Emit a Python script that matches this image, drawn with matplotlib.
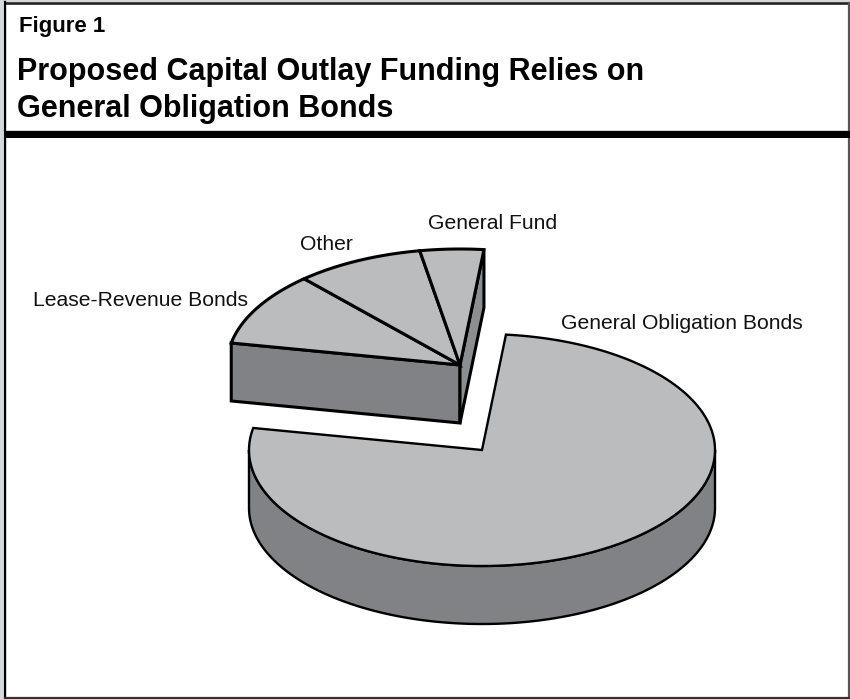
import numpy as np
import matplotlib
matplotlib.use('Agg')
import matplotlib.pyplot as plt

plt.rcParams['font.family'] = ['Liberation Sans', 'DejaVu Sans']

# funding shares, percent
sources = ['General Obligation Bonds', 'Lease-Revenue Bonds', 'Other', 'General Fund']
shares = [76.4, 10.3, 8.9, 4.4]

TOP = '#bbbcbe'
SIDE = '#808285'
SIDE_LIGHT = '#8c8e90'
RX, RY = 233, 116
DEPTH = 58

fig = plt.figure(figsize=(8.5, 6.99), dpi=100)
ax = fig.add_axes([0, 0, 1, 1])
ax.set_xlim(0, 850)
ax.set_ylim(699, 0)
ax.axis('off')


def rim(cx, cy, a0, a1):
    # angles clockwise from 12 o'clock, in degrees
    t = np.radians(np.linspace(a0, a1, 200))
    return cx + RX * np.sin(t), cy - RY * np.cos(t)


def draw_top(cx, cy, a0, a1, lw):
    x, y = rim(cx, cy, a0, a1)
    ax.fill(np.r_[cx, x], np.r_[cy, y], fc=TOP, ec='black', lw=lw, joinstyle='miter', zorder=3)


def draw_band(xs, ys, lw, color=SIDE):
    # a side wall hanging below an upper edge
    px = np.r_[xs, xs[::-1]]
    py = np.r_[ys, ys[::-1] + DEPTH]
    ax.fill(px, py, fc=color, ec='black', lw=lw, joinstyle='miter', zorder=2)


angles = np.array(shares) / sum(shares) * 360
go_start = 5.9
go_end = go_start + angles[0]

# main slice
x, y = rim(482, 450, 90, 270)
draw_band(x, y, 1.7)
draw_top(482, 450, go_start, go_end, 1.7)

# exploded slices
ax_c = (460, 365)
lx, ly = rim(*ax_c, go_end, go_end)
draw_band(np.array([lx[0], ax_c[0]]), np.array([ly[0], ax_c[1]]), 2.2)
rx_, ry_ = rim(*ax_c, go_start, go_start)
draw_band(np.array([ax_c[0], rx_[0]]), np.array([ax_c[1], ry_[0]]), 2.2, SIDE_LIGHT)
a = go_end
for s in angles[1:]:
    draw_top(*ax_c, a, a + s, 2.2)
    a += s

# slice labels
label_pos = [(561, 329), (33, 306), (300, 250), (428, 229)]
for name, (lbx, lby) in zip(sources, label_pos):
    ax.text(lbx, lby, name, fontsize=15.2, color='#111111', ha='left', va='baseline')

# page edge
ax.fill([0, 850, 850, 0], [0, 0, 2, 2], color='#d6d7d8', lw=0, zorder=4)
ax.fill([0, 3.5, 3.5, 0], [0, 0, 699, 699], color='#d6d7d8', lw=0, zorder=4)
ax.fill([3.5, 850, 850, 3.5], [129.5, 129.5, 131, 131], color='#d6d7d8', lw=0, zorder=4)

# frame and heading
ax.plot([5, 850], [3, 3], color='#222222', lw=1.9, zorder=5)
ax.plot([5, 5], [2, 699], color='black', lw=1.7, zorder=5)
ax.plot([849, 849], [3, 699], color='#555555', lw=1.6, zorder=5)
ax.plot([5, 850], [698, 698], color='#333333', lw=1.6, zorder=5)
ax.fill([5, 850, 850, 5], [131, 131, 138, 138], color='black', lw=0, zorder=5)
ax.text(19, 32, 'Figure 1', fontsize=16, fontweight='bold', ha='left', va='baseline')
ax.text(17, 80, 'Proposed Capital Outlay Funding Relies on', fontsize=22, fontweight='bold', ha='left', va='baseline')
ax.text(17, 117, 'General Obligation Bonds', fontsize=22, fontweight='bold', ha='left', va='baseline')

fig.savefig('out.png', dpi=100)
